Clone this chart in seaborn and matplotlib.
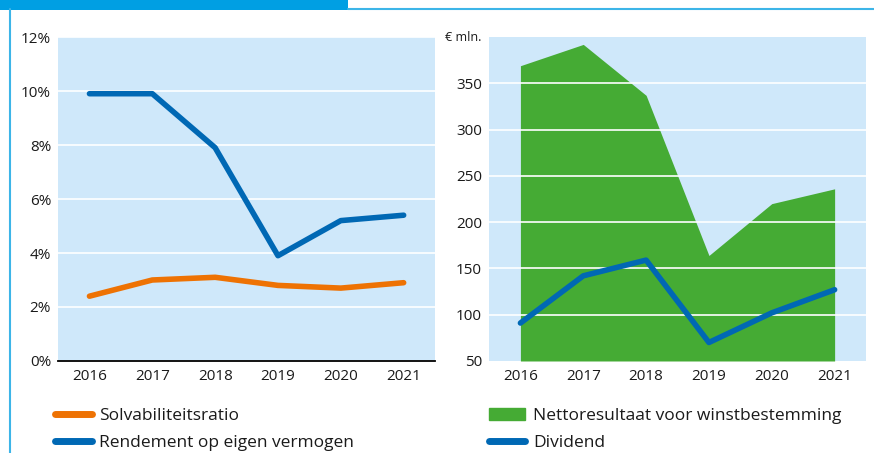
import matplotlib
matplotlib.use("Agg")
import matplotlib.pyplot as plt
import matplotlib.patches as mpatches
from matplotlib.lines import Line2D
import pandas as pd
import seaborn as sns

# -- Data ----------------------------------------------------------------------
years = [2016, 2017, 2018, 2019, 2020, 2021]
solvabiliteit = [2.4, 3.0, 3.1, 2.8, 2.7, 2.9]
rendement = [9.9, 9.9, 7.9, 3.9, 5.2, 5.4]
nettoresultaat = [369, 392, 337, 164, 220, 236]
dividend = [91, 142, 159, 70, 102, 127]

ORANGE = "#ee7203"
BLUE = "#0068b4"
GREEN = "#45ab34"
BG = "#cfe8fa"
FRAME = "#3db5e8"

sns.set_theme(style="white", rc={"axes.facecolor": BG})
plt.rcParams["font.family"] = ["Open Sans", "DejaVu Sans"]

fig = plt.figure(figsize=(8.74, 4.53), dpi=100)
ax1 = fig.add_axes([0.0664, 0.2031, 0.4314, 0.7152])
ax2 = fig.add_axes([0.5595, 0.2031, 0.4314, 0.7152])

df = pd.DataFrame({"year": years, "solv": solvabiliteit, "rend": rendement,
                   "netto": nettoresultaat, "div": dividend})

# -- Left chart ----------------------------------------------------------------
sns.lineplot(data=df, x="year", y="solv", color=ORANGE, lw=4,
             solid_capstyle="round", ax=ax1, zorder=3)
sns.lineplot(data=df, x="year", y="rend", color=BLUE, lw=4,
             solid_capstyle="round", ax=ax1, zorder=3)
ax1.set_xlim(2015.5, 2021.5)
ax1.set_ylim(0, 12)
ax1.set_yticks(range(0, 13, 2))
ax1.set_yticklabels([f"{v}%" for v in range(0, 13, 2)])
ax1.set_xticks(years)
ax1.yaxis.grid(True, color="white", lw=1.2)
ax1.set_axisbelow(True)
for s in ["top", "right", "left"]:
    ax1.spines[s].set_visible(False)
ax1.spines["bottom"].set_color("black")
ax1.spines["bottom"].set_linewidth(1.3)

# -- Right chart ---------------------------------------------------------------
ax2.fill_between(df["year"], df["netto"], 50, color=GREEN, lw=0, zorder=1)
sns.lineplot(data=df, x="year", y="div", color=BLUE, lw=4,
             solid_capstyle="round", ax=ax2, zorder=3)
ax2.set_xlim(2015.5, 2021.5)
ax2.set_ylim(50, 400)
ax2.set_yticks(range(50, 351, 50))
ax2.set_xticks(years)
for y in range(100, 351, 50):
    ax2.axhline(y, color="white", lw=1.2, zorder=2)
for s in ax2.spines.values():
    s.set_visible(False)
ax2.text(-0.02, 1.0, "€ mln.", transform=ax2.transAxes, ha="right",
         va="center", fontsize=9, color="#1a1a1a")

for ax in (ax1, ax2):
    ax.set_xlabel("")
    ax.set_ylabel("")
    ax.tick_params(axis="both", length=0, labelsize=11, colors="#1a1a1a")
    ax.tick_params(axis="x", pad=6)
    ax.tick_params(axis="y", pad=5)

# -- Legends -------------------------------------------------------------------
leg_kw = dict(loc="upper left", frameon=False, fontsize=12.5, handlelength=2.1,
              handletextpad=0.45, labelspacing=0.62, borderaxespad=0, borderpad=0,
              labelcolor="#1a1a1a")
h_left = [Line2D([0], [0], color=ORANGE, lw=5, solid_capstyle="round"),
          Line2D([0], [0], color=BLUE, lw=5, solid_capstyle="round")]
fig.legend(h_left, ["Solvabiliteitsratio", "Rendement op eigen vermogen"],
           bbox_to_anchor=(0.063, 0.099), **leg_kw)
h_right = [mpatches.Patch(color=GREEN),
           Line2D([0], [0], color=BLUE, lw=5, solid_capstyle="round")]
fig.legend(h_right, ["Nettoresultaat voor winstbestemming", "Dividend"],
           bbox_to_anchor=(0.5595, 0.099), **leg_kw)

# -- Frame decoration ----------------------------------------------------------
fig.patches.append(mpatches.Rectangle((0, 1 - 10 / 453), 348 / 874, 10 / 453,
                                      transform=fig.transFigure, color="#009fe3",
                                      lw=0))
fig.lines.append(Line2D([348 / 874, 1], [1 - 9 / 453] * 2, color=FRAME, lw=1.5,
                        transform=fig.transFigure))
fig.lines.append(Line2D([9.5 / 874] * 2, [0, 1 - 9 / 453], color=FRAME, lw=1.5,
                        transform=fig.transFigure))

fig.savefig("out.png", dpi=100)
